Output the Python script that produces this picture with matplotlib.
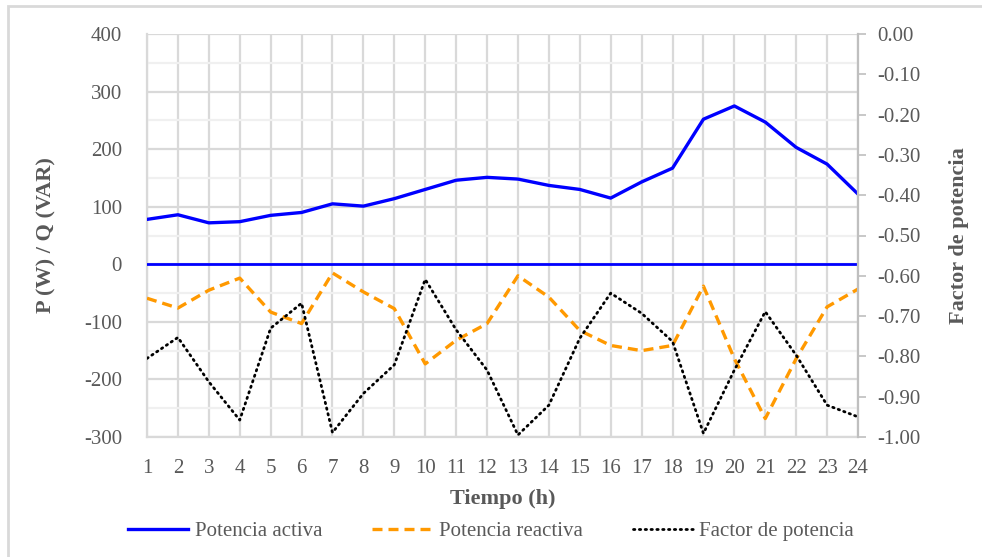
"""Potencia activa, reactiva y factor de potencia por hora."""

import matplotlib
matplotlib.use("Agg")
import matplotlib.pyplot as plt
from matplotlib.patches import Rectangle
from matplotlib.ticker import MultipleLocator, FormatStrFormatter

hours = list(range(1, 25))
p_active = [78, 86, 72, 74, 85, 90, 105, 101, 114, 130, 146, 151,
            148, 137, 130, 115, 143, 167, 252, 275, 247, 203, 174, 122]
q_reactive = [-59, -76, -45, -24, -83, -103, -15, -48, -77, -173, -132, -103,
              -20, -57, -115, -141, -150, -141, -38, -164, -268, -164, -74, -43]
power_factor = [-0.805, -0.753, -0.863, -0.958, -0.730, -0.668, -0.989, -0.892,
                -0.821, -0.609, -0.734, -0.834, -0.995, -0.921, -0.755, -0.643,
                -0.693, -0.763, -0.991, -0.834, -0.689, -0.797, -0.921, -0.950]

TEXT = "#595959"
plt.rcParams["font.family"] = ["Liberation Serif", "DejaVu Serif"]
plt.rcParams["font.size"] = 15
plt.rcParams["axes.unicode_minus"] = False

fig = plt.figure(figsize=(9.82, 5.57), dpi=100)
fig.patches.append(Rectangle((8 / 982, -0.1), 1.2, (1 - 6 / 557) + 0.1,
                             transform=fig.transFigure, fill=False,
                             edgecolor="#d9d9d9", linewidth=2))

ax = fig.add_axes([147 / 982, 1 - 437 / 557, 711 / 982, 403 / 557])
ax2 = ax.twinx()

# grid
ax.set_xlim(1, 24)
ax.set_ylim(-300, 400)
ax.set_xticks(hours)
ax.yaxis.set_major_locator(MultipleLocator(100))
ax.yaxis.set_minor_locator(MultipleLocator(50))
ax.grid(True, which="major", color="#d9d9d9", linewidth=1.6)
ax.grid(True, which="minor", axis="y", color="#f0f0f0", linewidth=1.6)
ax.set_axisbelow(True)

ax.axhline(0, color="#0000ff", linewidth=2.0, zorder=3)
l1, = ax.plot(hours, p_active, color="#0000ff", linewidth=2.4, label="Potencia activa", zorder=4)
l2, = ax.plot(hours, q_reactive, color="#ff9900", linewidth=2.4, dashes=(3.0, 1.8),
              label="Potencia reactiva", zorder=4)
l3, = ax2.plot(hours, power_factor, color="black", linewidth=2.0, linestyle=(0, (0.5, 1.6)),
               dash_capstyle="round", label="Factor de potencia")

ax2.set_ylim(-1, 0)
ax2.yaxis.set_major_locator(MultipleLocator(0.1))
ax2.yaxis.set_major_formatter(FormatStrFormatter("%.2f"))

for a in (ax, ax2):
    for s in a.spines.values():
        s.set_visible(False)
ax.spines["left"].set_visible(True)
ax.spines["left"].set_color("#d9d9d9")
ax.spines["left"].set_linewidth(1.6)
ax.spines["bottom"].set_visible(True)
ax.spines["bottom"].set_color("#d9d9d9")
ax.spines["bottom"].set_linewidth(1.6)
ax2.spines["right"].set_visible(True)
ax2.spines["right"].set_color("#bfbfbf")
ax2.spines["right"].set_linewidth(1.6)

ax.tick_params(axis="y", which="both", length=0, pad=18, colors=TEXT)
ax.tick_params(axis="x", length=0, pad=16, colors=TEXT)
ax2.tick_params(axis="y", length=6, width=1.2, color="#bfbfbf", pad=8, labelcolor=TEXT)

ax.set_xlabel("Tiempo (h)", fontweight="bold", color=TEXT, fontsize=16, labelpad=8)
ax.set_ylabel("P (W) / Q (VAR)", fontweight="bold", color=TEXT, fontsize=16, labelpad=20)
ax2.set_ylabel("Factor de potencia", fontweight="bold", color=TEXT, fontsize=16, labelpad=20)

leg = fig.legend(handles=[l1, l2, l3], loc="center", bbox_to_anchor=(0.5, 1 - 531 / 557),
                 ncol=3, frameon=False, handlelength=2.9, handletextpad=0.3,
                 columnspacing=2.4, fontsize=15)
for t in leg.get_texts():
    t.set_color(TEXT)

fig.savefig("out.png", dpi=100)
